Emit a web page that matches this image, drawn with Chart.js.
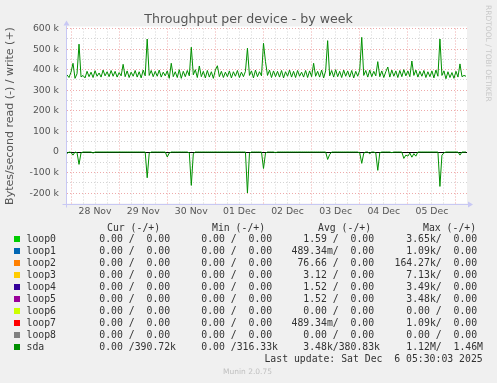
<!DOCTYPE html>
<html>
<head>
<meta charset="utf-8">
<script src="https://cdn.jsdelivr.net/npm/chart.js@4.4.1/dist/chart.umd.min.js"></script>
<style>
body { margin: 0; background: #f0f0f0; }
#wrap { position: relative; width: 497px; height: 383px; overflow: hidden; }
canvas { position: absolute; left: 0; top: 0; }
.mono { position: absolute; white-space: pre; font-family: "DejaVu Sans Mono", monospace; font-size: 9.8px; line-height: 12px; color: #333; }
.sq { position: absolute; width: 6px; height: 6px; }
</style>
</head>
<body>
<div id="wrap">
  <canvas id="c" width="497" height="383"></canvas>
  <div style="position:absolute;left:0;top:11px;width:497px;text-align:center;font-family:'DejaVu Sans';font-size:12.6px;line-height:15px;color:#555;">Throughput per device - by week</div>
  <div style="position:absolute;left:484px;top:5px;writing-mode:vertical-rl;font-family:'DejaVu Sans';font-size:7.5px;color:#c8c8c8;">RRDTOOL / TOBI OETIKER</div>
  <div id="legend"></div>
  <div style="position:absolute;left:0;top:367px;width:495px;text-align:center;font-family:'DejaVu Sans';font-size:7.5px;line-height:10px;color:#c0c0c0;">Munin 2.0.75</div>
</div>
<script>
// hourly samples starting 27 Nov 22:00, values in k bytes/s
const stepHours = 1;
const dayLabels = ['28 Nov', '29 Nov', '30 Nov', '01 Dec', '02 Dec', '03 Dec', '04 Dec', '05 Dec'];

const sdaWrite = [
  375,362,388,431,358,380,524,365,372,360,
  392,366,388,362,395,368,384,364,398,370,
  390,366,396,368,392,364,386,370,426,366,
  394,362,388,368,396,364,390,360,398,370,
  549,372,396,366,392,368,398,364,388,370,
  394,358,431,366,390,362,400,358,392,366,
  396,370,509,375,400,362,418,366,392,360,
  396,364,390,358,398,419,366,392,362,388,
  366,394,360,390,368,396,362,388,366,392,
  504,372,394,360,398,366,390,370,528,439,
  372,398,362,394,366,392,364,396,360,390,
  368,398,364,392,362,396,368,388,364,396,
  362,394,366,431,368,392,364,398,360,394,
  541,370,396,364,400,366,392,362,398,368,
  394,364,396,360,392,368,398,557,372,396,
  364,398,366,392,370,439,366,394,362,390,
  413,364,398,368,394,362,396,366,400,370,
  394,366,442,372,398,364,392,368,396,362,
  390,366,394,360,398,368,549,372,394,356,
  390,362,386,358,392,364,428,366,372,368
];

const sdaRead = [
  7,0,2,15,0,3,60,4,0,0,
  0,0,0,5,0,0,0,0,0,0,
  0,0,0,0,0,0,0,0,0,0,
  0,0,0,0,0,0,0,0,0,0,
  125,6,0,0,0,0,0,0,0,0,
  24,5,0,0,0,0,0,0,0,0,
  0,4,162,8,0,0,0,0,0,0,
  0,0,0,0,0,0,0,0,0,0,
  0,0,0,0,0,0,0,0,0,0,
  199,6,0,0,0,0,0,0,80,5,
  0,0,0,0,3,0,0,0,0,0,
  0,0,0,0,0,0,0,0,0,0,
  0,0,0,0,0,0,0,0,0,0,
  36,12,0,0,0,0,0,0,0,0,
  0,0,0,0,0,0,4,55,6,0,
  0,8,0,0,4,89,3,0,0,0,
  0,0,3,0,0,0,0,0,31,15,
  20,5,25,8,20,0,0,0,0,0,
  0,0,0,0,0,0,167,15,4,0,
  0,0,0,0,0,0,15,0,0,0
];

const seriesNames = ['loop0','loop1','loop2','loop3','loop4','loop5','loop6','loop7','loop8','sda'];
const seriesColors = ['#00cc00','#0066b3','#ff8000','#ffcc00','#330099','#990099','#ccff00','#ff0000','#808080','#008f00'];
const curVals = ['0.00 /  0.00 ','0.00 /  0.00 ','0.00 /  0.00 ','0.00 /  0.00 ','0.00 /  0.00 ','0.00 /  0.00 ','0.00 /  0.00 ','0.00 /  0.00 ','0.00 /  0.00 ','0.00 /390.72k'];
const minVals = ['0.00 /  0.00 ','0.00 /  0.00 ','0.00 /  0.00 ','0.00 /  0.00 ','0.00 /  0.00 ','0.00 /  0.00 ','0.00 /  0.00 ','0.00 /  0.00 ','0.00 /  0.00 ','0.00 /316.33k'];
const avgVals = ['1.59 /  0.00 ','489.34m/  0.00 ','76.66 /  0.00 ','3.12 /  0.00 ','1.52 /  0.00 ','1.52 /  0.00 ','0.00 /  0.00 ','489.34m/  0.00 ','0.00 /  0.00 ','3.48k/380.83k'];
const maxVals = ['3.65k/  0.00 ','1.09k/  0.00 ','164.27k/  0.00 ','7.13k/  0.00 ','3.49k/  0.00 ','3.48k/  0.00 ','0.00 /  0.00 ','1.09k/  0.00 ','0.00 /  0.00 ','1.12M/  1.46M'];

// legend table
let leg = document.getElementById('legend');
let html = '';
let heads = [['Cur (-/+)', 107], ['Min (-/+)', 212], ['Avg (-/+)', 318], ['Max (-/+)', 423]];
heads.forEach(h => {
  html += '<div class="mono" style="left:' + h[1] + 'px;top:221.5px">' + h[0] + '</div>';
});
let colRight = [176, 278, 380, 483];
seriesNames.forEach((name, i) => {
  let top = 233.3 + 12 * i;
  html += '<div class="sq" style="left:14px;top:' + (top + 3) + 'px;background:' + seriesColors[i] + '"></div>';
  html += '<div class="mono" style="left:26.5px;top:' + top + 'px">' + name + '</div>';
  [curVals, minVals, avgVals, maxVals].forEach((col, j) => {
    html += '<div class="mono" style="right:' + (497 - colRight[j]) + 'px;top:' + top + 'px">' + col[i] + '</div>';
  });
});
html += '<div class="mono" style="right:14.3px;top:353.3px">Last update: Sat Dec  6 05:30:03 2025</div>';
leg.innerHTML = html;

const plotBg = {
  id: 'plotBg',
  beforeDraw(chart) {
    const { ctx, chartArea: a } = chart;
    ctx.save();
    ctx.fillStyle = '#ffffff';
    ctx.fillRect(a.left, a.top - 2, a.right - a.left, a.bottom - a.top + 2);
    ctx.restore();
  }
};

const axisArrows = {
  id: 'axisArrows',
  afterDraw(chart) {
    const { ctx, chartArea: a } = chart;
    const x = Math.round(a.left) - 0.5, y = Math.round(a.bottom) + 0.5;
    ctx.save();
    ctx.strokeStyle = '#c8c8f4';
    ctx.fillStyle = '#c8c8f4';
    ctx.lineWidth = 1;
    ctx.beginPath();
    ctx.moveTo(x, y + 3);
    ctx.lineTo(x, a.top - 3);
    ctx.moveTo(x - 4, y);
    ctx.lineTo(a.right + 2, y);
    ctx.stroke();
    ctx.beginPath();
    ctx.moveTo(x - 3, a.top - 3);
    ctx.lineTo(x + 3, a.top - 3);
    ctx.lineTo(x, a.top - 8);
    ctx.closePath();
    ctx.fill();
    ctx.beginPath();
    ctx.moveTo(a.right + 1, y - 3);
    ctx.lineTo(a.right + 1, y + 3);
    ctx.lineTo(a.right + 6, y);
    ctx.closePath();
    ctx.fill();
    ctx.restore();
  }
};

const redGrid = '#eeaaaa';
const greyGrid = '#d4d4d4';

new Chart(document.getElementById('c'), {
  type: 'line',
  data: {
    datasets: [
      {
        label: 'sda write',
        data: sdaWrite.map((v, i) => ({ x: i * stepHours, y: v })),
        borderColor: '#009000',
        borderWidth: 1,
        pointRadius: 0,
        tension: 0
      },
      {
        label: 'sda read',
        data: sdaRead.map((v, i) => ({ x: i * stepHours, y: -v })),
        borderColor: '#009000',
        borderWidth: 1,
        pointRadius: 0,
        tension: 0
      }
    ]
  },
  options: {
    responsive: false,
    animation: false,
    devicePixelRatio: 1,
    layout: { padding: { left: 0, top: 28.5, right: 30, bottom: 159.5 } },
    plugins: { legend: { display: false }, tooltip: { enabled: false } },
    scales: {
      x: {
        type: 'linear',
        min: 0,
        max: 199.5,
        afterFit(s) { s.height = 20; },
        afterBuildTicks(s) {
          let t = [];
          for (let h = 2; h <= 198; h += 6) t.push({ value: h });
          s.ticks = t;
        },
        ticks: {
          autoSkip: false,
          maxRotation: 0,
          minRotation: 0,
          padding: 3,
          color: '#555',
          font: { family: 'DejaVu Sans', size: 9.3 },
          callback: v => ((v - 14) % 24 === 0 ? (dayLabels[(v - 14) / 24] || '') : '')
        },
        grid: {
          drawTicks: false,
          lineWidth: 1,
          color: c => (c.tick && (c.tick.value - 2) % 24 === 0 ? redGrid : greyGrid)
        },
        border: { display: false, dash: [1, 2] }
      },
      y: {
        min: -250,
        max: 600,
        afterFit(s) { s.width = 67; },
        ticks: {
          stepSize: 50,
          autoSkip: false,
          padding: 8,
          color: '#555',
          font: { family: 'DejaVu Sans', size: 9.3 },
          callback: v => (v % 100 === 0 ? (v === 0 ? '0' : v + ' k') : '')
        },
        grid: {
          drawTicks: false,
          lineWidth: 1,
          color: c => {
            if (!c.tick) return greyGrid;
            let v = c.tick.value;
            if (v === 0) return '#000000';
            if (v === -250) return 'rgba(0,0,0,0)';
            return v % 100 === 0 ? redGrid : greyGrid;
          }
        },
        border: { display: false, dash: c => (c.tick && c.tick.value === 0 ? [] : [1, 2]) },
        title: {
          display: true,
          text: 'Bytes/second read (-) / write (+)',
          color: '#555',
          font: { family: 'DejaVu Sans', size: 11 },
          padding: { top: 4, bottom: 0 }
        }
      }
    }
  },
  plugins: [plotBg, axisArrows]
});
</script>
</body>
</html>
